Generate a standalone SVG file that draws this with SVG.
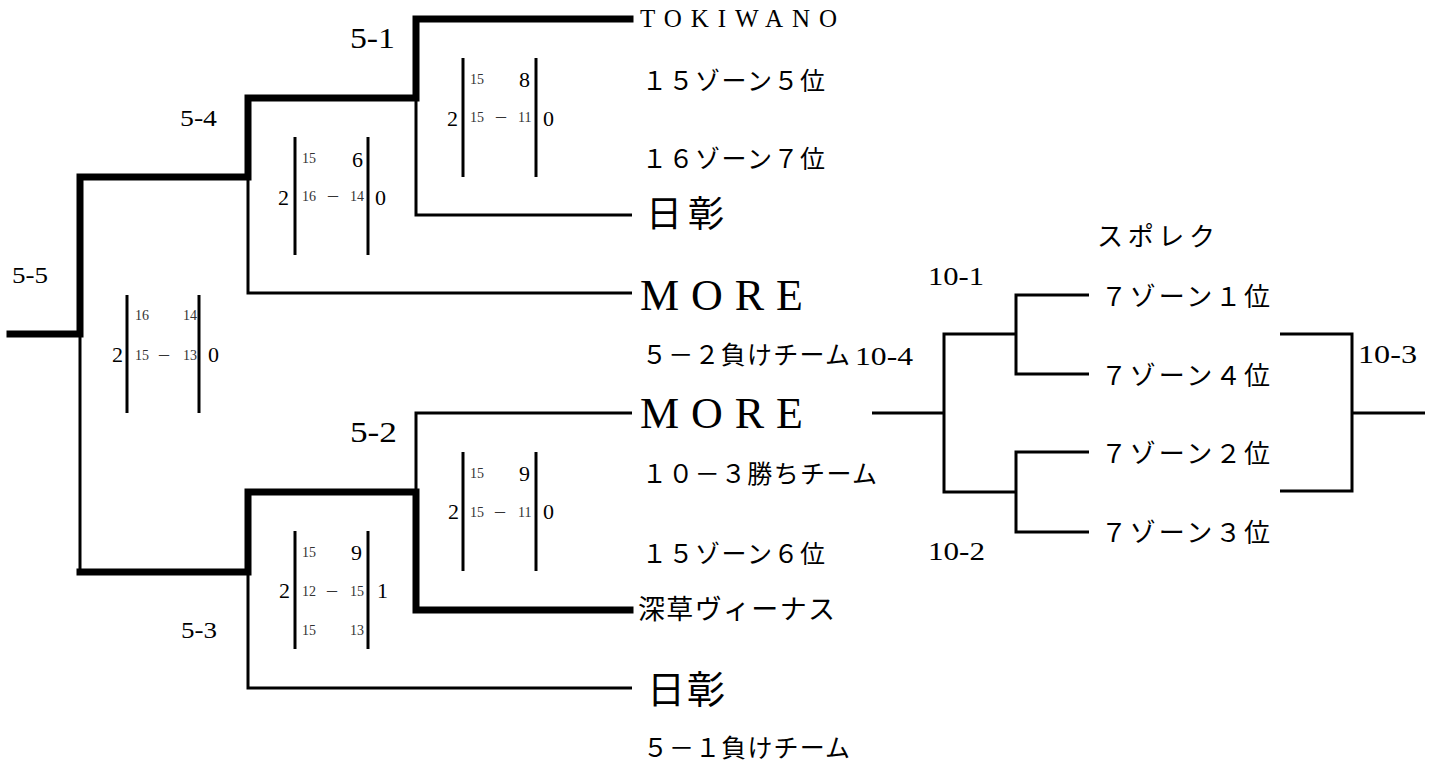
<svg xmlns="http://www.w3.org/2000/svg" width="1436" height="763" viewBox="0 0 1436 763">
<style>
.bg{fill:#fff}
.thick{fill:none;stroke:#000;stroke-width:7;stroke-linecap:square;stroke-linejoin:miter}
.thin{fill:none;stroke:#000;stroke-width:3;stroke-linecap:butt;stroke-linejoin:miter}
.bar{stroke:#000;stroke-width:3}
.lat{font-family:'Liberation Serif','DejaVu Serif',serif;fill:#000}
.cjk{font-family:'Liberation Serif','Noto Sans CJK JP','DejaVu Serif',serif;fill:#000}
.lbl{font-size:24px}
.lblb{font-size:29px}
.lbl10{font-size:26px}
.jp{font-size:25px}
.jp7{font-size:26px}
.big{font-size:22px}
.sm{font-size:14px;fill:#333}
.dash{font-size:20px;fill:#333}
.more{font-size:44px}
</style>
<rect class="bg" x="0" y="0" width="1436" height="763"/>
<g id="connectors">
  <polyline class="thick" points="630,19 416,19 416,98 248,98 248,177 80,177 80,334 10,334"/>
  <polyline class="thick" points="630,610 416,610 416,492 248,492 248,572 80,572"/>
  <polyline class="thin" points="416,98 416,215 632,215"/>
  <polyline class="thin" points="248,177 248,293 632,293"/>
  <polyline class="thin" points="80,334 80,572"/>
  <polyline class="thin" points="416,492 416,413 632,413"/>
  <polyline class="thin" points="248,572 248,688 632,688"/>
  <polyline class="thin" points="872,413 944,413"/>
  <polyline class="thin" points="1016,334 944,334 944,492 1016,492"/>
  <polyline class="thin" points="1089,295 1016,295 1016,374 1089,374"/>
  <polyline class="thin" points="1089,452 1016,452 1016,532 1089,532"/>
  <polyline class="thin" points="1280,334 1352,334 1352,491 1280,491"/>
  <polyline class="thin" points="1352,413 1425,413"/>
</g>
<g id="match-5-1" class="lat">
  <text class="lblb" x="350" y="48" textLength="45" lengthAdjust="spacingAndGlyphs">5-1</text>
  <line class="bar" x1="463" y1="58" x2="463" y2="177"/>
  <line class="bar" x1="536" y1="58" x2="536" y2="177"/>
  <text class="big" x="447" y="126">2</text>
  <text class="sm" x="470" y="84">15</text>
  <text class="big" x="519" y="87">8</text>
  <text class="sm" x="470" y="122">15</text>
  <text class="dash" x="496" y="123">–</text>
  <text class="sm" x="518" y="122">11</text>
  <text class="big" x="543" y="126">0</text>
</g>
<g id="match-5-4" class="lat">
  <text class="lbl" x="180" y="126" textLength="37" lengthAdjust="spacingAndGlyphs">5-4</text>
  <line class="bar" x1="295" y1="137" x2="295" y2="255"/>
  <line class="bar" x1="368" y1="137" x2="368" y2="255"/>
  <text class="big" x="278" y="205">2</text>
  <text class="sm" x="302" y="163">15</text>
  <text class="big" x="352" y="167">6</text>
  <text class="sm" x="302" y="201">16</text>
  <text class="dash" x="328" y="202">–</text>
  <text class="sm" x="350" y="201">14</text>
  <text class="big" x="375" y="205">0</text>
</g>
<g id="match-5-5" class="lat">
  <text class="lbl" x="12" y="283" textLength="36" lengthAdjust="spacingAndGlyphs">5-5</text>
  <line class="bar" x1="127" y1="295" x2="127" y2="413"/>
  <line class="bar" x1="199" y1="295" x2="199" y2="413"/>
  <text class="big" x="112" y="362">2</text>
  <text class="sm" x="135" y="320">16</text>
  <text class="sm" x="183" y="320">14</text>
  <text class="sm" x="135" y="360">15</text>
  <text class="dash" x="159" y="361">–</text>
  <text class="sm" x="183" y="360">13</text>
  <text class="big" x="208" y="362">0</text>
</g>
<g id="match-5-2" class="lat">
  <text class="lblb" x="350" y="442" textLength="47" lengthAdjust="spacingAndGlyphs">5-2</text>
  <line class="bar" x1="463" y1="452" x2="463" y2="571"/>
  <line class="bar" x1="536" y1="452" x2="536" y2="571"/>
  <text class="big" x="448" y="519">2</text>
  <text class="sm" x="470" y="478">15</text>
  <text class="big" x="519" y="481">9</text>
  <text class="sm" x="470" y="517">15</text>
  <text class="dash" x="495" y="518">–</text>
  <text class="sm" x="518" y="517">11</text>
  <text class="big" x="543" y="519">0</text>
</g>
<g id="match-5-3" class="lat">
  <text class="lbl" x="181" y="638" textLength="36" lengthAdjust="spacingAndGlyphs">5-3</text>
  <line class="bar" x1="295" y1="531" x2="295" y2="649"/>
  <line class="bar" x1="368" y1="531" x2="368" y2="649"/>
  <text class="big" x="279" y="598">2</text>
  <text class="sm" x="302" y="557">15</text>
  <text class="big" x="351" y="560">9</text>
  <text class="sm" x="302" y="596">12</text>
  <text class="dash" x="327" y="597">–</text>
  <text class="sm" x="350" y="596">15</text>
  <text class="big" x="377" y="598">1</text>
  <text class="sm" x="302" y="635">15</text>
  <text class="sm" x="350" y="635">13</text>
</g>
<g id="team-tokiwano" class="lat">
  <text x="640" y="27" font-size="25" textLength="197" lengthAdjust="spacing">TOKIWANO</text>
</g>
<g id="slot-15z5" class="cjk">
  <text class="jp" x="642" y="90" textLength="183" lengthAdjust="spacing">１５ゾーン５位</text>
</g>
<g id="slot-16z7" class="cjk">
  <text class="jp" x="642" y="168" textLength="183" lengthAdjust="spacing">１６ゾーン７位</text>
</g>
<g id="team-nissho-1" class="cjk">
  <text x="646" y="227" font-size="36" textLength="78" lengthAdjust="spacing">日彰</text>
</g>
<g id="team-more-1" class="lat">
  <text class="more" x="640" y="310" textLength="163" lengthAdjust="spacing">MORE</text>
</g>
<g id="slot-5-2-loser">
  <text class="cjk jp" x="642" y="364" textLength="208" lengthAdjust="spacing">５－２負けチーム</text>
  <text class="lat lbl10" x="855" y="365" textLength="58" lengthAdjust="spacingAndGlyphs">10-4</text>
</g>
<g id="team-more-2" class="lat">
  <text class="more" x="640" y="428" textLength="163" lengthAdjust="spacing">MORE</text>
</g>
<g id="slot-10-3-winner" class="cjk">
  <text class="jp" x="642" y="483" textLength="235" lengthAdjust="spacing">１０－３勝ちチーム</text>
</g>
<g id="slot-15z6" class="cjk">
  <text class="jp" x="642" y="563" textLength="183" lengthAdjust="spacing">１５ゾーン６位</text>
</g>
<g id="team-fukakusa" class="cjk">
  <text x="638" y="619" font-size="27" textLength="197" lengthAdjust="spacing">深草ヴィーナス</text>
</g>
<g id="team-nissho-2" class="cjk">
  <text x="647" y="703" font-size="38" textLength="78" lengthAdjust="spacing">日彰</text>
</g>
<g id="slot-5-1-loser" class="cjk">
  <text class="jp" x="643" y="757" textLength="207" lengthAdjust="spacing">５－１負けチーム</text>
</g>
<g id="label-sporec" class="cjk">
  <text x="1097" y="246" font-size="26" textLength="118" lengthAdjust="spacing">スポレク</text>
</g>
<g id="match-10-1" class="lat">
  <text class="lbl10" x="928" y="285" textLength="56" lengthAdjust="spacingAndGlyphs">10-1</text>
</g>
<g id="match-10-2" class="lat">
  <text class="lbl10" x="928" y="560" textLength="57" lengthAdjust="spacingAndGlyphs">10-2</text>
</g>
<g id="match-10-3" class="lat">
  <text class="lbl10" x="1358" y="363" textLength="59" lengthAdjust="spacingAndGlyphs">10-3</text>
</g>
<g id="slot-7z1" class="cjk">
  <text class="jp7" x="1101" y="306" textLength="169" lengthAdjust="spacing">７ゾーン１位</text>
</g>
<g id="slot-7z4" class="cjk">
  <text class="jp7" x="1101" y="385" textLength="169" lengthAdjust="spacing">７ゾーン４位</text>
</g>
<g id="slot-7z2" class="cjk">
  <text class="jp7" x="1101" y="463" textLength="169" lengthAdjust="spacing">７ゾーン２位</text>
</g>
<g id="slot-7z3" class="cjk">
  <text class="jp7" x="1101" y="542" textLength="169" lengthAdjust="spacing">７ゾーン３位</text>
</g>
</svg>
